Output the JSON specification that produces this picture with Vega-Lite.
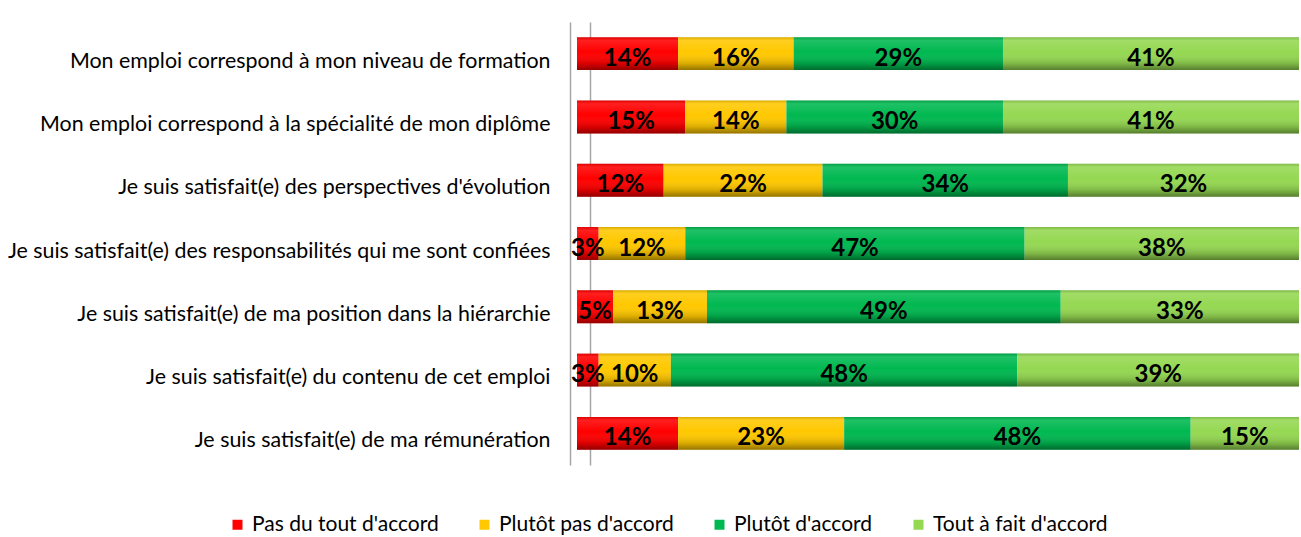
{
  "$schema": "https://vega.github.io/schema/vega-lite/v6.json",
  "autosize": {"type": "none"},
  "width": 722,
  "height": 443,
  "padding": {"left": 577, "top": 22, "right": 2, "bottom": 72},
  "background": "white",
  "config": {"view": {"stroke": null}, "font": "Lato"},
  "data": {"values": [
    {"q": "Mon emploi correspond à mon niveau de formation", "r": "Pas du tout d'accord", "k": 1, "v": 14},
    {"q": "Mon emploi correspond à mon niveau de formation", "r": "Plutôt pas d'accord", "k": 2, "v": 16},
    {"q": "Mon emploi correspond à mon niveau de formation", "r": "Plutôt d'accord", "k": 3, "v": 29},
    {"q": "Mon emploi correspond à mon niveau de formation", "r": "Tout à fait d'accord", "k": 4, "v": 41},
    {"q": "Mon emploi correspond à la spécialité de mon diplôme", "r": "Pas du tout d'accord", "k": 1, "v": 15},
    {"q": "Mon emploi correspond à la spécialité de mon diplôme", "r": "Plutôt pas d'accord", "k": 2, "v": 14},
    {"q": "Mon emploi correspond à la spécialité de mon diplôme", "r": "Plutôt d'accord", "k": 3, "v": 30},
    {"q": "Mon emploi correspond à la spécialité de mon diplôme", "r": "Tout à fait d'accord", "k": 4, "v": 41},
    {"q": "Je suis satisfait(e) des perspectives d'évolution", "r": "Pas du tout d'accord", "k": 1, "v": 12},
    {"q": "Je suis satisfait(e) des perspectives d'évolution", "r": "Plutôt pas d'accord", "k": 2, "v": 22},
    {"q": "Je suis satisfait(e) des perspectives d'évolution", "r": "Plutôt d'accord", "k": 3, "v": 34},
    {"q": "Je suis satisfait(e) des perspectives d'évolution", "r": "Tout à fait d'accord", "k": 4, "v": 32},
    {"q": "Je suis satisfait(e) des responsabilités qui me sont confiées", "r": "Pas du tout d'accord", "k": 1, "v": 3},
    {"q": "Je suis satisfait(e) des responsabilités qui me sont confiées", "r": "Plutôt pas d'accord", "k": 2, "v": 12},
    {"q": "Je suis satisfait(e) des responsabilités qui me sont confiées", "r": "Plutôt d'accord", "k": 3, "v": 47},
    {"q": "Je suis satisfait(e) des responsabilités qui me sont confiées", "r": "Tout à fait d'accord", "k": 4, "v": 38},
    {"q": "Je suis satisfait(e) de ma position dans la hiérarchie", "r": "Pas du tout d'accord", "k": 1, "v": 5},
    {"q": "Je suis satisfait(e) de ma position dans la hiérarchie", "r": "Plutôt pas d'accord", "k": 2, "v": 13},
    {"q": "Je suis satisfait(e) de ma position dans la hiérarchie", "r": "Plutôt d'accord", "k": 3, "v": 49},
    {"q": "Je suis satisfait(e) de ma position dans la hiérarchie", "r": "Tout à fait d'accord", "k": 4, "v": 33},
    {"q": "Je suis satisfait(e) du contenu de cet emploi", "r": "Pas du tout d'accord", "k": 1, "v": 3},
    {"q": "Je suis satisfait(e) du contenu de cet emploi", "r": "Plutôt pas d'accord", "k": 2, "v": 10},
    {"q": "Je suis satisfait(e) du contenu de cet emploi", "r": "Plutôt d'accord", "k": 3, "v": 48},
    {"q": "Je suis satisfait(e) du contenu de cet emploi", "r": "Tout à fait d'accord", "k": 4, "v": 39},
    {"q": "Je suis satisfait(e) de ma rémunération", "r": "Pas du tout d'accord", "k": 1, "v": 14},
    {"q": "Je suis satisfait(e) de ma rémunération", "r": "Plutôt pas d'accord", "k": 2, "v": 23},
    {"q": "Je suis satisfait(e) de ma rémunération", "r": "Plutôt d'accord", "k": 3, "v": 48},
    {"q": "Je suis satisfait(e) de ma rémunération", "r": "Tout à fait d'accord", "k": 4, "v": 15}
  ]},
  "transform": [
    {"stack": "v", "groupby": ["q"], "sort": [{"field": "k", "order": "ascending"}], "as": ["v0", "v1"]},
    {"calculate": "(datum.v0 + datum.v1) / 2", "as": "mid"}
  ],
  "encoding": {
    "y": {"field": "q", "type": "nominal", "sort": null, "title": null,
      "scale": {"paddingInner": 0.48, "paddingOuter": 0.24},
      "axis": {"ticks": false, "domain": true, "domainColor": "#a6a6a6", "domainWidth": 1.5, "offset": 7,
        "labelPadding": 20, "labelFontSize": 21.4, "labelColor": "black", "labelLimit": 600, "labelFont": "Lato", "labelOffset": 8}}
  },
  "layer": [
    {
      "mark": {"type": "bar"},
      "encoding": {
        "x": {"field": "v0", "type": "quantitative", "scale": {"domain": [0, 100]}, "title": null,
          "axis": {"values": [1.8], "grid": true, "gridColor": "#a6a6a6", "gridWidth": 1.5, "labels": false, "ticks": false, "domain": false}},
        "x2": {"field": "v1"},
        "color": {"field": "r", "type": "nominal",
          "scale": {"domain": ["Pas du tout d'accord", "Plutôt pas d'accord", "Plutôt d'accord", "Tout à fait d'accord"],
            "range": ["#ff0000", "#ffc800", "#00b850", "#95d852"]},
          "legend": {"title": null, "orient": "none", "legendX": -350, "legendY": 492, "direction": "horizontal",
            "symbolType": "square", "symbolSize": 100, "symbolStrokeWidth": 0, "labelFontSize": 21, "labelFont": "Lato",
            "labelColor": "black", "columnPadding": 35, "labelOffset": 4, "labelLimit": 400}}
      }
    },
    {
      "mark": {"type": "bar", "color": {"gradient": "linear", "x1": 0, "y1": 0, "x2": 0, "y2": 1,
        "stops": [
          {"offset": 0, "color": "rgba(0,0,0,0.15)"},
          {"offset": 0.1, "color": "rgba(255,255,255,0.12)"},
          {"offset": 0.45, "color": "rgba(255,255,255,0)"},
          {"offset": 0.8, "color": "rgba(0,0,0,0.15)"},
          {"offset": 1, "color": "rgba(0,0,0,0.42)"}
        ]}},
      "encoding": {
        "x": {"field": "v0", "type": "quantitative"},
        "x2": {"field": "v1"}
      }
    },
    {
      "mark": {"type": "text", "fontSize": 24, "fontWeight": "bold", "font": "Lato", "color": "black", "baseline": "middle", "dy": 5,
        "text": {"expr": "datum.v + '%'"}},
      "encoding": {
        "x": {"field": "mid", "type": "quantitative"}
      }
    }
  ]
}
